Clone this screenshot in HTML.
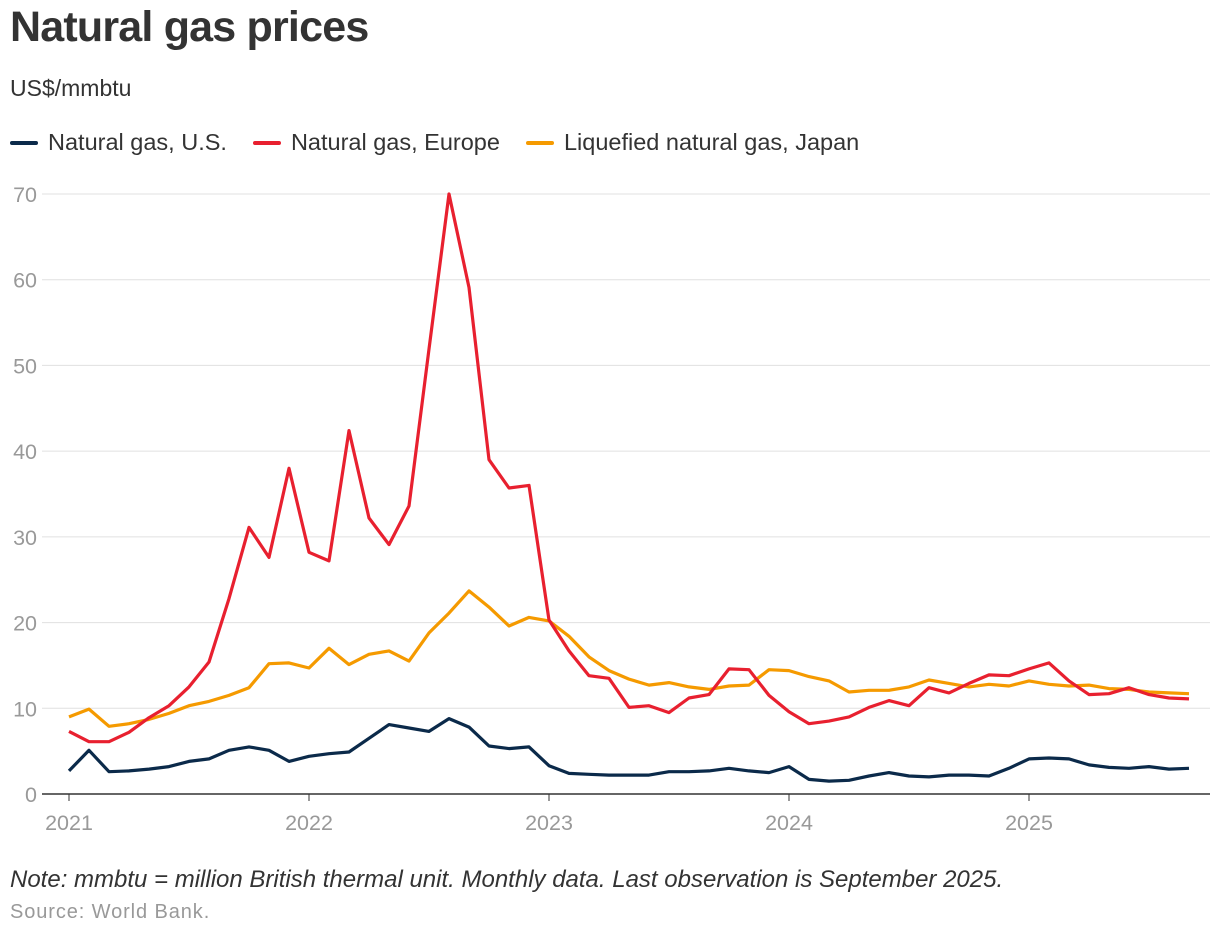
<!DOCTYPE html>
<html><head><meta charset="utf-8"><style>
body{margin:0;background:#fff;font-family:"Liberation Sans",sans-serif;width:1220px;height:936px;overflow:hidden;position:relative}
#title{position:absolute;left:10px;top:3px;font-size:43px;font-weight:bold;color:#333;letter-spacing:-0.8px}
#sub{position:absolute;left:10px;top:75px;font-size:23px;color:#333}
#legend{position:absolute;left:10px;top:129px;font-size:23.5px;color:#333;display:flex;gap:26px}
.li{display:flex;align-items:center}
.sw{width:28px;height:4px;margin-right:10px;border-radius:2px}
#note{position:absolute;left:10px;top:866px;font-size:24px;font-style:italic;color:#333}
#src{position:absolute;left:10px;top:901px;font-size:20px;color:#999;letter-spacing:0.9px}
svg{position:absolute;left:0;top:0}
</style></head><body>
<div id="title">Natural gas prices</div>
<div id="sub">US$/mmbtu</div>
<div id="legend">
<div class="li"><span class="sw" style="background:#0b2a4a"></span>Natural gas, U.S.</div>
<div class="li"><span class="sw" style="background:#e8202f"></span>Natural gas, Europe</div>
<div class="li"><span class="sw" style="background:#f59a00"></span>Liquefied natural gas, Japan</div>
</div>
<svg id="chart" width="1220" height="936"></svg>
<div id="note">Note: mmbtu = million British thermal unit. Monthly data. Last observation is September 2025.</div>
<div id="src">Source: World Bank.</div>
<script>
const yTicks=[0,10,20,30,40,50,60,70];
const xTicks=["2021","2022","2023","2024","2025"];
const us=[2.7,5.1,2.6,2.7,2.9,3.2,3.8,4.1,5.1,5.5,5.1,3.8,4.4,4.7,4.9,6.5,8.1,7.7,7.3,8.8,7.8,5.6,5.3,5.5,3.3,2.4,2.3,2.2,2.2,2.2,2.6,2.6,2.7,3.0,2.7,2.5,3.2,1.7,1.5,1.6,2.1,2.5,2.1,2.0,2.2,2.2,2.1,3.0,4.1,4.2,4.1,3.4,3.1,3.0,3.2,2.9,3.0];
const europe=[7.3,6.1,6.1,7.2,8.9,10.3,12.5,15.4,22.8,31.1,27.6,38.0,28.2,27.2,42.4,32.2,29.1,33.6,51.9,70.0,59.1,39.0,35.7,36.0,20.3,16.7,13.8,13.5,10.1,10.3,9.5,11.2,11.6,14.6,14.5,11.5,9.6,8.2,8.5,9.0,10.1,10.9,10.3,12.4,11.8,12.9,13.9,13.8,14.6,15.3,13.2,11.6,11.7,12.4,11.6,11.2,11.1];
const japan=[9.0,9.9,7.9,8.2,8.7,9.4,10.3,10.8,11.5,12.4,15.2,15.3,14.7,17.0,15.1,16.3,16.7,15.5,18.8,21.1,23.7,21.8,19.6,20.6,20.2,18.4,16.0,14.4,13.4,12.7,13.0,12.5,12.2,12.6,12.7,14.5,14.4,13.7,13.2,11.9,12.1,12.1,12.5,13.3,12.9,12.5,12.8,12.6,13.2,12.8,12.6,12.7,12.3,12.2,11.9,11.8,11.7];
const svg=document.getElementById('chart');const NS='http://www.w3.org/2000/svg';
const x=i=>69+i*20;const y=v=>794-v*600/70;
function mk(t,a){const e=document.createElementNS(NS,t);for(const k in a)e.setAttribute(k,a[k]);svg.appendChild(e);return e;}
yTicks.forEach(v=>{
 const l=mk('line',{x1:42,x2:1210,y1:y(v),y2:y(v),stroke:v===0?'#333':'#e0e0e0','stroke-width':v===0?1.5:1});
 
 
 const t=mk('text',{x:37,y:y(v)+8,'text-anchor':'end','font-size':21.5,fill:'#999','font-family':'Liberation Sans'});
 t.textContent=v;
 
 
});
xTicks.forEach((s,i)=>{
 const tk=mk('line',{x1:x(i*12),x2:x(i*12),y1:794,y2:801,stroke:'#333'});
 
 
 const t=mk('text',{x:x(i*12),y:830,'text-anchor':'middle','font-size':21.5,fill:'#999','font-family':'Liberation Sans'});
 t.textContent=s;
 
 
});
[[japan,'#f59a00','japan-line'],[europe,'#e8202f','europe-line'],[us,'#0b2a4a','us-line']].forEach(([d,c,n])=>{
 const p=mk('path',{d:d.map((v,i)=>(i?'L':'M')+x(i)+','+y(v).toFixed(1)).join(''),fill:'none',stroke:c,'stroke-width':3.2,'stroke-linejoin':'round'});
 
 
});
</script>
</body></html>
